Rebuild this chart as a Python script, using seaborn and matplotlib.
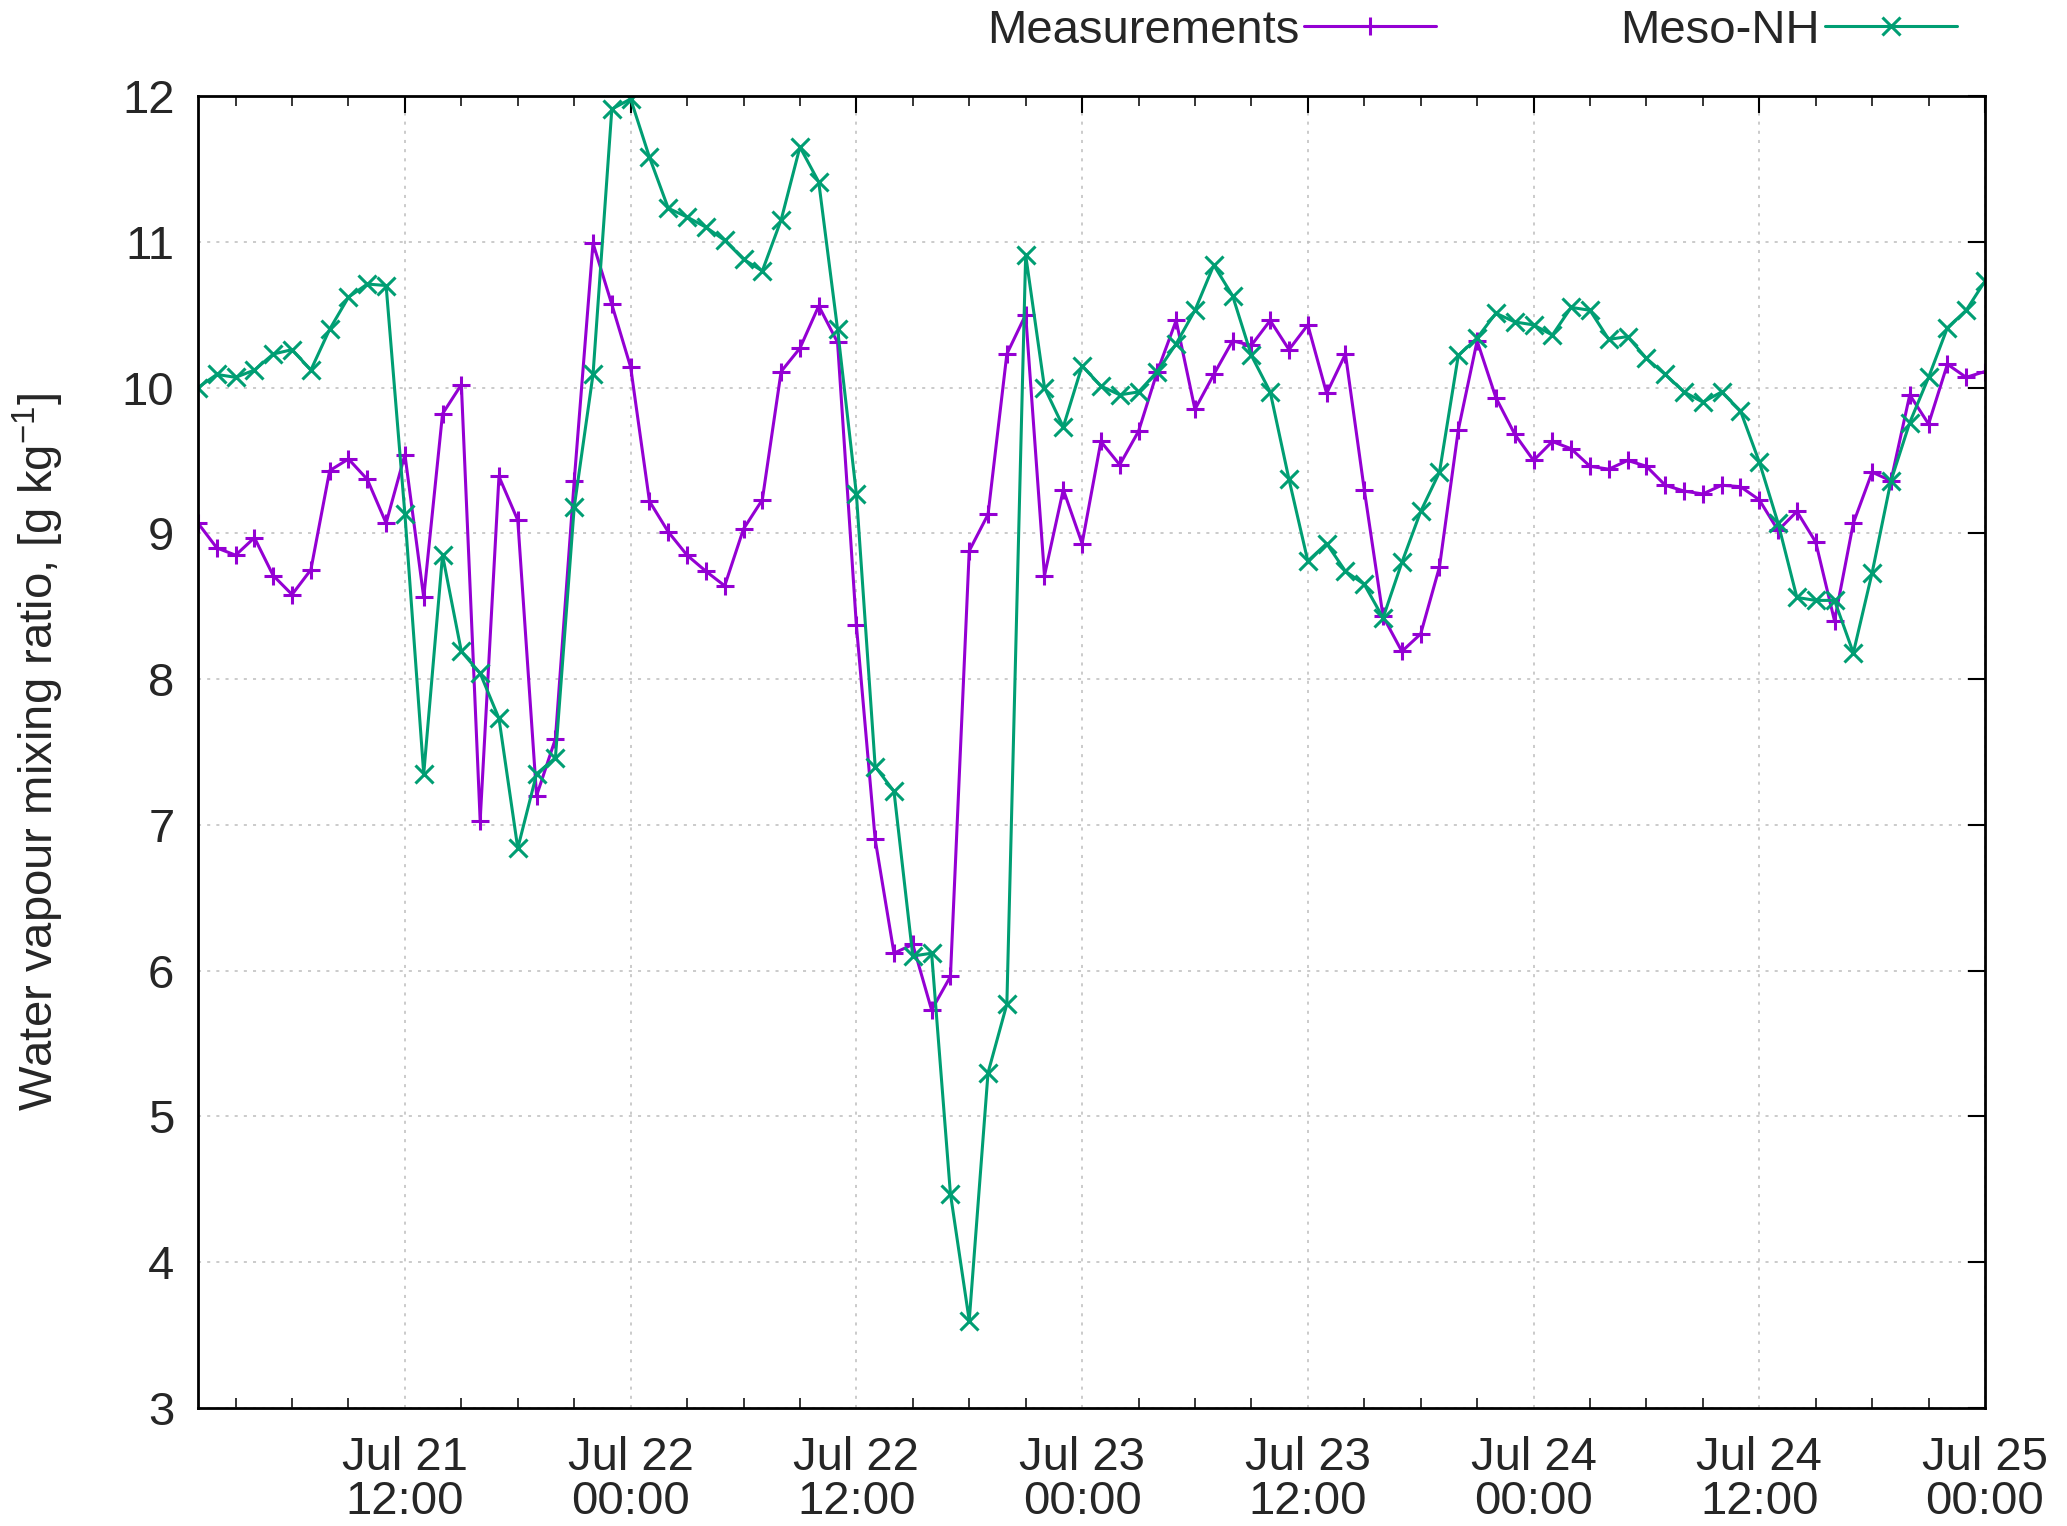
import matplotlib
matplotlib.use("Agg")
import matplotlib.pyplot as plt
import matplotlib.dates as mdates
import numpy as np
import pandas as pd
import seaborn as sns

# hourly values, Jul 21 01:00 -> Jul 25 00:00
measurements = [
    9.07, 8.90, 8.85, 8.97, 8.71, 8.58, 8.75, 9.43, 9.51, 9.37, 9.07, 9.54,
    8.56, 9.82, 10.02, 7.03, 9.39, 9.09, 7.20, 7.59, 9.36, 10.99, 10.57, 10.14,
    9.22, 9.01, 8.85, 8.74, 8.64, 9.03, 9.23, 10.11, 10.27, 10.56, 10.31, 8.37,
    6.90, 6.12, 6.18, 5.73, 5.96, 8.88, 9.13, 10.23, 10.50, 8.71, 9.30, 8.93,
    9.63, 9.47, 9.70, 10.11, 10.46, 9.85, 10.09, 10.32, 10.29, 10.46, 10.26, 10.43,
    9.96, 10.23, 9.30, 8.43, 8.19, 8.31, 8.77, 9.71, 10.32, 9.93, 9.68, 9.50,
    9.63, 9.58, 9.46, 9.44, 9.50, 9.46, 9.33, 9.29, 9.27, 9.33, 9.32, 9.23,
    9.02, 9.15, 8.94, 8.40, 9.07, 9.42, 9.36, 9.95, 9.75, 10.16, 10.07, 10.11,
]
meso_nh = [
    10.00, 10.09, 10.07, 10.12, 10.23, 10.26, 10.12, 10.40, 10.62, 10.71, 10.70, 9.13,
    7.35, 8.85, 8.19, 8.04, 7.73, 6.84, 7.35, 7.46, 9.18, 10.09, 11.91, 11.98,
    11.58, 11.23, 11.17, 11.10, 11.01, 10.88, 10.80, 11.15, 11.65, 11.41, 10.40, 9.27,
    7.40, 7.23, 6.10, 6.12, 4.47, 3.60, 5.30, 5.77, 10.91, 10.00, 9.73, 10.15,
    10.01, 9.95, 9.97, 10.11, 10.30, 10.53, 10.84, 10.63, 10.22, 9.97, 9.37, 8.81,
    8.93, 8.74, 8.65, 8.42, 8.80, 9.15, 9.42, 10.22, 10.34, 10.51, 10.45, 10.43,
    10.36, 10.55, 10.53, 10.33, 10.35, 10.20, 10.09, 9.97, 9.90, 9.97, 9.84, 9.49,
    9.07, 8.56, 8.54, 8.54, 8.18, 8.73, 9.36, 9.76, 10.07, 10.41, 10.53, 10.73,
]
times = pd.date_range("2021-07-21 01:00", periods=len(measurements), freq="h")

sns.set_style("white")
plt.rcParams["font.family"] = ["Liberation Sans", "DejaVu Sans"]
plt.rcParams["mathtext.fontset"] = "custom"
plt.rcParams["mathtext.rm"] = "Liberation Sans"
plt.rcParams["mathtext.it"] = "Liberation Sans"

fs = 34
fig = plt.figure(figsize=(20.67, 15.26), dpi=100)
ax = fig.add_axes([198 / 2067, 1 - 1408 / 1526, (1985 - 198) / 2067, (1408 - 96) / 1526])

style = dict(linewidth=2.2, markersize=13, markeredgewidth=2.2)
sns.lineplot(x=times, y=measurements, ax=ax, color="#9400D3", marker="+",
             markeredgecolor="#9400D3", label="Measurements", **style)
sns.lineplot(x=times, y=meso_nh, ax=ax, color="#009E73", marker="x",
             markeredgecolor="#009E73", label="Meso-NH", **style)

ax.set_xlim(times[0], times[-1])
ax.set_ylim(3, 12)
ax.set_yticks(np.arange(3, 13, 1))
ax.xaxis.set_major_locator(mdates.HourLocator(byhour=[0, 12]))
ax.xaxis.set_minor_locator(mdates.HourLocator(byhour=range(0, 24, 3)))
ax.xaxis.set_major_formatter(mdates.DateFormatter("%b %d\n%H:%M"))

ax.tick_params(axis="both", which="major", direction="in", length=12, width=1.5,
               top=True, right=True, labelsize=fs, color="black")
ax.tick_params(axis="x", which="major", pad=20)
ax.tick_params(axis="y", which="major", pad=17)
ax.tick_params(axis="x", which="minor", direction="in", length=7, width=1.3,
               top=True, bottom=True)
ax.grid(True, which="major", color="#bdbdbd", linestyle=(0, (2, 4)), linewidth=1.1)

for sp in ax.spines.values():
    sp.set_linewidth(2)
    sp.set_color("black")

ax.set_xlabel("")
ax.set_ylabel("Water vapour mixing ratio, [g kg$^{-1}$]", fontsize=34, labelpad=40)

leg = ax.legend(loc="center right", bbox_to_anchor=(1957 / 2067, 1 - 31 / 1526),
                bbox_transform=fig.transFigure, ncol=2, frameon=False,
                markerfirst=False, fontsize=fs, handlelength=2.8,
                handletextpad=0.1, columnspacing=3.9, borderpad=0, borderaxespad=0)

fig.canvas.draw()
for lab in ax.get_xticklabels():
    lab.set_linespacing(1.02)

fig.savefig("out.png", dpi=100, facecolor="white")
